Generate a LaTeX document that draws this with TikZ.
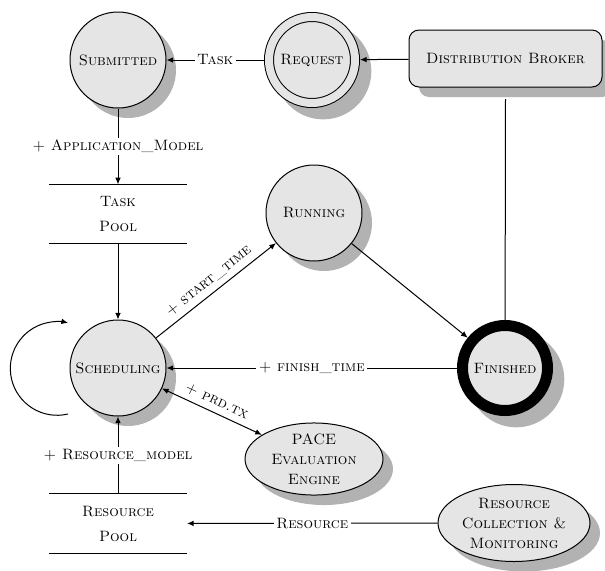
\documentclass[tikz,border=0pt]{standalone}
\usepackage{tikz}
\usetikzlibrary{arrows.meta,shadows,shapes.geometric}
\definecolor{statefill}{gray}{0.9}
\definecolor{shadowgray}{gray}{0.7}

\begin{document}
\begin{tikzpicture}[x=0.6pt,y=-0.6pt,line width=0.6pt,
    font=\fontsize{9}{12}\selectfont\scshape,
    >={Latex[length=4pt,width=3.4pt]},
    grayshadow/.style={drop shadow={shadow xshift=6pt,shadow yshift=-6pt,
        fill=shadowgray,opacity=1,#1}},
    grayshadow/.default={},
    state/.style={circle,draw,fill=statefill,inner sep=0pt,
        minimum size=57.6pt,grayshadow},
    oval/.style={ellipse,draw,fill=statefill,inner sep=0pt,align=center,grayshadow},
    pool/.style={minimum width=82.2pt,minimum height=35pt,align=center},
    lbl/.style={fill=white,inner sep=1.5pt}]
  \useasboundingbox (0,0) rectangle (605,570);

  % states
  \node[state] (sub) at (118,60) {Submitted};
  \node[state,minimum size=51.6pt,double=statefill,double distance=4.8pt,
        outer sep=3pt,grayshadow={shadow scale=1.12}] (req) at (312,60) {Request};
  \node[draw,fill=statefill,rounded corners=6pt,minimum width=115.8pt,
        minimum height=34.2pt,grayshadow] (broker) at (505.5,58.5) {Distribution Broker};
  \node[state] (run) at (314,213) {Running};
  \node[state] (sched) at (118,368) {Scheduling};
  \node[state,minimum size=51pt,line width=6.6pt,
        grayshadow={shadow scale=1.13}] (fin) at (505,368) {Finished};

  % pools
  \node[pool] (taskpool) at (118,214) {Task\\[3pt]Pool};
  \node[pool] (respool) at (118,523.5) {Resource\\[3pt]Pool};
  \draw (taskpool.north west) -- (taskpool.north east);
  \draw (taskpool.south west) -- (taskpool.south east);
  \draw (respool.north west) -- (respool.north east);
  \draw (respool.south west) -- (respool.south east);

  % outside engines
  \node[oval,minimum width=82.8pt,minimum height=40.8pt] (pace) at (314,459)
       {PACE\\Evaluation\\Engine};
  \node[oval,minimum width=91.2pt,minimum height=46.2pt] (rescol) at (514,523)
       {Resource\\Collection \&\\Monitoring};

  % connectors
  \draw[->] (broker) -- (req);
  \draw[->] (req) -- node[lbl] {Task} (sub);
  \draw[->] (sub) -- node[lbl] {+ Application\_Model} (taskpool);
  \draw[->] (taskpool) -- (sched);
  \draw[->] (sched) -- node[sloped,above] {+ start\_time} (run);
  \draw[->] (run) -- (fin);
  \draw[->] (fin) -- node[lbl] {+ finish\_time} (sched);
  \draw[<->] (sched) -- node[sloped,above] {+ prd.tx} (pace);
  \draw[->] (respool) -- node[lbl] {+ Resource\_model} (sched);
  \draw[->] (rescol) -- node[lbl] {Resource} (respool);
  \draw ([yshift=-7pt]broker.south) -- (fin);

  % rescheduling loop
  \coordinate (loopstart) at (68,414);
  \draw[->] (loopstart) arc[start angle=-76.6,end angle=-283.4,radius=28.1pt];
\end{tikzpicture}
\end{document}
